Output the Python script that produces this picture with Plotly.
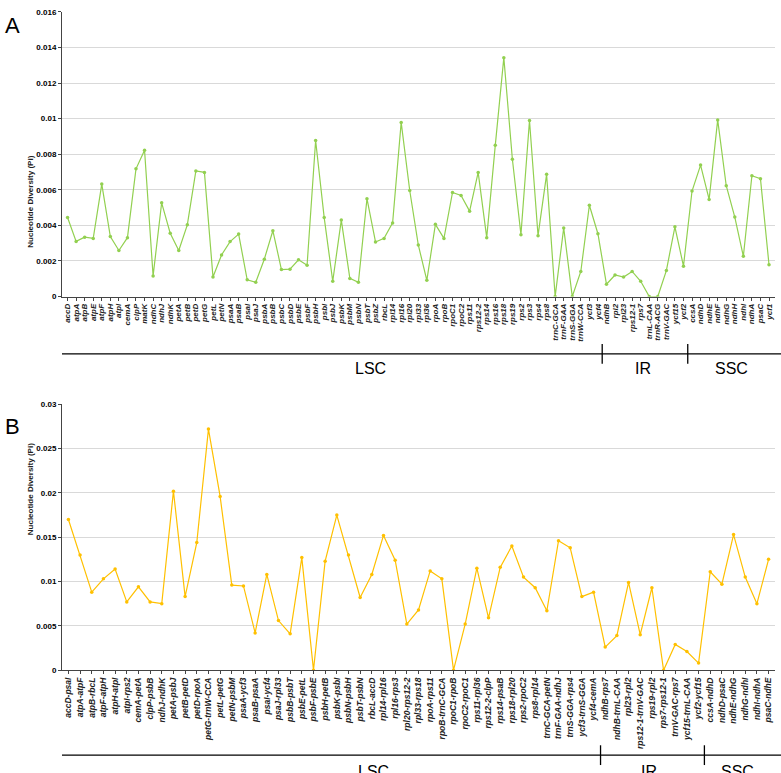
import plotly.graph_objects as go

# --- Panel A: genes ---
GENES_A = [
    "accD", "atpA", "atpB", "atpE", "atpF", "atpH", "atpI", "cemA", "clpP", "matK",
    "ndhC", "ndhJ", "ndhK", "petA", "petB", "petD", "petG", "petL", "petN", "psaA",
    "psaB", "psaI", "psaJ", "psbA", "psbB", "psbC", "psbD", "psbE", "psbF", "psbH",
    "psbI", "psbJ", "psbK", "psbM", "psbN", "psbT", "psbZ", "rbcL", "rpl14", "rpl16",
    "rpl20", "rpl33", "rpl36", "rpoA", "rpoB", "rpoC1", "rpoC2", "rps11", "rps12-2", "rps14",
    "rps16", "rps18", "rps19", "rps2", "rps3", "rps4", "rps8", "trnC-GCA", "trnF-GAA", "trnS-GGA",
    "trnW-CCA", "ycf3", "ycf4", "ndhB", "rpl2", "rpl23", "rps12-1", "rps7", "trnL-CAA", "trnR-ACG",
    "trnV-GAC", "ycf15", "ycf2", "ccsA", "ndhD", "ndhE", "ndhF", "ndhG", "ndhH", "ndhI",
    "ndhA", "psaC", "ycf1",
]
PI_A = [
    0.00444, 0.00310, 0.00334, 0.00327, 0.00632, 0.00337, 0.00259, 0.00331, 0.00718, 0.00822,
    0.00116, 0.00527, 0.00356, 0.00259, 0.00403, 0.00706, 0.00698, 0.00110, 0.00234, 0.00309,
    0.00351, 0.00094, 0.00080, 0.00210, 0.00370, 0.00152, 0.00154, 0.00207, 0.00176, 0.00877,
    0.00444, 0.00086, 0.00430, 0.00102, 0.00080, 0.00550, 0.00307, 0.00327, 0.00414, 0.00979,
    0.00596, 0.00290, 0.00091, 0.00406, 0.00327, 0.00585, 0.00568, 0.00480, 0.00698, 0.00331,
    0.00850, 0.01343, 0.00772, 0.00348, 0.00990, 0.00342, 0.00687, 0.0, 0.00386, 0.0,
    0.00141, 0.00513, 0.00353, 0.00069, 0.00121, 0.00110, 0.00141, 0.00086, 0.0, 0.0,
    0.00146, 0.00392, 0.00171, 0.00593, 0.00739, 0.00546, 0.00993, 0.00623, 0.00447, 0.00226,
    0.00679, 0.00662, 0.00179,
]
YTICKS_A = [0, 0.002, 0.004, 0.006, 0.008, 0.01, 0.012, 0.014, 0.016]
YTEXT_A = ["0", "0.002", "0.004", "0.006", "0.008", "0.01", "0.012", "0.014", "0.016"]

# --- Panel B: intergenic regions ---
SPACERS_B = [
    "accD-psaI", "atpA-atpF", "atpB-rbcL", "atpF-atpH", "atpH-atpI", "atpI-rps2", "cemA-petA",
    "clpP-psbB", "ndhJ-ndhK", "petA-psbJ", "petB-petD", "petD-rpoA", "petG-trnW-CCA", "petL-petG",
    "petN-psbM", "psaA-ycf3", "psaB-psaA", "psaI-ycf4", "psaJ-rpl33", "psbB-psbT", "psbE-petL",
    "psbF-psbE", "psbH-petB", "psbK-psbI", "psbN-psbH", "psbT-psbN", "rbcL-accD", "rpl14-rpl16",
    "rpl16-rps3", "rpl20-rps12-2", "rpl33-rps18", "rpoA-rps11", "rpoB-trnC-GCA", "rpoC1-rpoB",
    "rpoC2-rpoC1", "rps11-rpl36", "rps12-2-clpP", "rps14-psaB", "rps18-rpl20", "rps2-rpoC2",
    "rps8-rpl14", "trnC-GCA-petN", "trnF-GAA-ndhJ", "trnS-GGA-rps4", "ycf3-trnS-GGA", "ycf4-cemA",
    "ndhB-rps7", "ndhB-trnL-CAA", "rpl23-rpl2", "rps12-1-trnV-GAC", "rps19-rpl2", "rps7-rps12-1",
    "trnV-GAC-rps7", "ycf15-trnL-CAA", "ycf2-ycf15", "ccsA-ndhD", "ndhD-psaC", "ndhE-ndhG",
    "ndhG-ndhI", "ndhI-ndhA", "psaC-ndhE",
]
PI_B = [
    0.0170, 0.0130, 0.0088, 0.0103, 0.0114, 0.0077, 0.0094, 0.0077, 0.0075, 0.0202,
    0.0083, 0.0144, 0.0272, 0.0196, 0.0096, 0.0095, 0.0042, 0.0108, 0.0056, 0.0041,
    0.0127, 0.0, 0.0123, 0.0175, 0.0130, 0.0082, 0.0108, 0.0152, 0.0124, 0.0052,
    0.0068, 0.0112, 0.0103, 0.0, 0.0052, 0.0115, 0.0059, 0.0116, 0.0140, 0.0105,
    0.0093, 0.0067, 0.0146, 0.0138, 0.0083, 0.0088, 0.0026, 0.0039, 0.0099, 0.0040,
    0.0093, 0.0, 0.0029, 0.0021, 0.0008, 0.0111, 0.0097, 0.0153, 0.0105, 0.0075,
    0.0125,
]
YTICKS_B = [0, 0.005, 0.01, 0.015, 0.02, 0.025, 0.03]
YTEXT_B = ["0", "0.005", "0.01", "0.015", "0.02", "0.025", "0.03"]

# region boundaries (between categories) and labels
BOUNDS_A = [62.5, 72.5]
BOUNDS_B = [45.6, 54.5]
REGIONS = ["LSC", "IR", "SSC"]

W, H = 781, 773
FONT = "Liberation Sans, Arial, sans-serif"


def py(px):
    # pixel row -> paper y
    return 1 - px / H


def px_x(px):
    return px / W


fig = go.Figure()

fig.add_trace(go.Scatter(
    x=list(range(len(GENES_A))), y=PI_A, mode="lines+markers",
    line=dict(color="#92D050", width=1.2), marker=dict(size=3.5, color="#92D050"),
    xaxis="x", yaxis="y", showlegend=False,
))
fig.add_trace(go.Scatter(
    x=list(range(len(SPACERS_B))), y=PI_B, mode="lines+markers",
    line=dict(color="#FFC000", width=1.2), marker=dict(size=3.5, color="#FFC000"),
    xaxis="x2", yaxis="y2", showlegend=False,
))

ytickfont = dict(family=FONT, size=8, color="#000", weight="bold")

common_x = dict(
    tickmode="array", tickangle=-90,
    showgrid=False, showline=True, linecolor="#444", linewidth=1,
    ticks="outside", ticklen=3, tickcolor="#444", zeroline=False,
)
common_y = dict(
    tickfont=ytickfont, showgrid=True, gridcolor="#D9D9D9", gridwidth=1,
    showline=True, linecolor="#444", linewidth=1, ticks="outside", ticklen=3,
    tickcolor="#444", zeroline=False, tickmode="array",
)

fig.update_layout(
    width=W, height=H,
    margin=dict(l=0, r=0, t=0, b=0),
    paper_bgcolor="white", plot_bgcolor="white",
    font=dict(family=FONT),
    xaxis=dict(
        common_x, domain=[px_x(62), px_x(775)], anchor="y",
        tickvals=list(range(len(GENES_A))), ticktext=GENES_A,
        tickfont=dict(family=FONT, size=8, color="#222", style="italic", weight="bold"),
        range=[-0.65, len(GENES_A) - 0.3],
    ),
    yaxis=dict(
        common_y, domain=[py(296), py(8)], anchor="x",
        tickvals=YTICKS_A, ticktext=YTEXT_A, range=[0, 0.016],
    ),
    xaxis2=dict(
        common_x, domain=[px_x(62), px_x(775)], anchor="y2",
        tickvals=list(range(len(SPACERS_B))), ticktext=SPACERS_B,
        tickfont=dict(family=FONT, size=8.5, color="#222", style="italic", weight="bold"),
        range=[-0.55, len(SPACERS_B) - 0.45],
    ),
    yaxis2=dict(
        common_y, domain=[py(674), py(405)], anchor="x2",
        tickvals=YTICKS_B, ticktext=YTEXT_B, range=[0, 0.03],
    ),
)

ann = []
# panel letters
ann.append(dict(text="A", x=px_x(3), y=py(22), xref="paper", yref="paper",
                xanchor="left", yanchor="middle", showarrow=False,
                font=dict(size=22, color="#000", family=FONT)))
ann.append(dict(text="B", x=px_x(3), y=py(427), xref="paper", yref="paper",
                xanchor="left", yanchor="middle", showarrow=False,
                font=dict(size=22, color="#000", family=FONT)))
# y axis titles
for yc in (py(152), py(540)):
    ann.append(dict(text="Nucleotide Diversity (Pi)", x=px_x(24), y=yc,
                    xref="paper", yref="paper", textangle=-90, showarrow=False,
                    font=dict(size=8, color="#222", family=FONT, weight="bold")))

shapes = []
# region brackets
for xref, bounds, line_y, label_y, label_x in (
    ("x", BOUNDS_A, 354, 369, [370, 643, 731]),
    ("x2", BOUNDS_B, 760, 777, [373, 649, 737]),
):
    shapes.append(dict(type="line", xref="paper", yref="paper",
                       x0=px_x(62), x1=1.0, y0=py(line_y), y1=py(line_y),
                       line=dict(color="#000", width=1.3)))
    for b in bounds:
        shapes.append(dict(type="line", xref=xref, yref="paper",
                           x0=b, x1=b, y0=py(line_y - 10), y1=py(line_y + 10),
                           line=dict(color="#000", width=1.3)))
    for name, lx in zip(REGIONS, label_x):
        ann.append(dict(text=name, x=px_x(lx), y=py(label_y), xref="paper", yref="paper",
                        xanchor="center", yanchor="middle", showarrow=False,
                        font=dict(size=16, color="#000", family=FONT)))

fig.update_layout(annotations=ann, shapes=shapes)

# drop the default body margin so the 781x773 figure fills the window
fig.write_html(
    "out.html",
    config={"displayModeBar": False},
    post_script="document.body.style.margin='0';",
)
